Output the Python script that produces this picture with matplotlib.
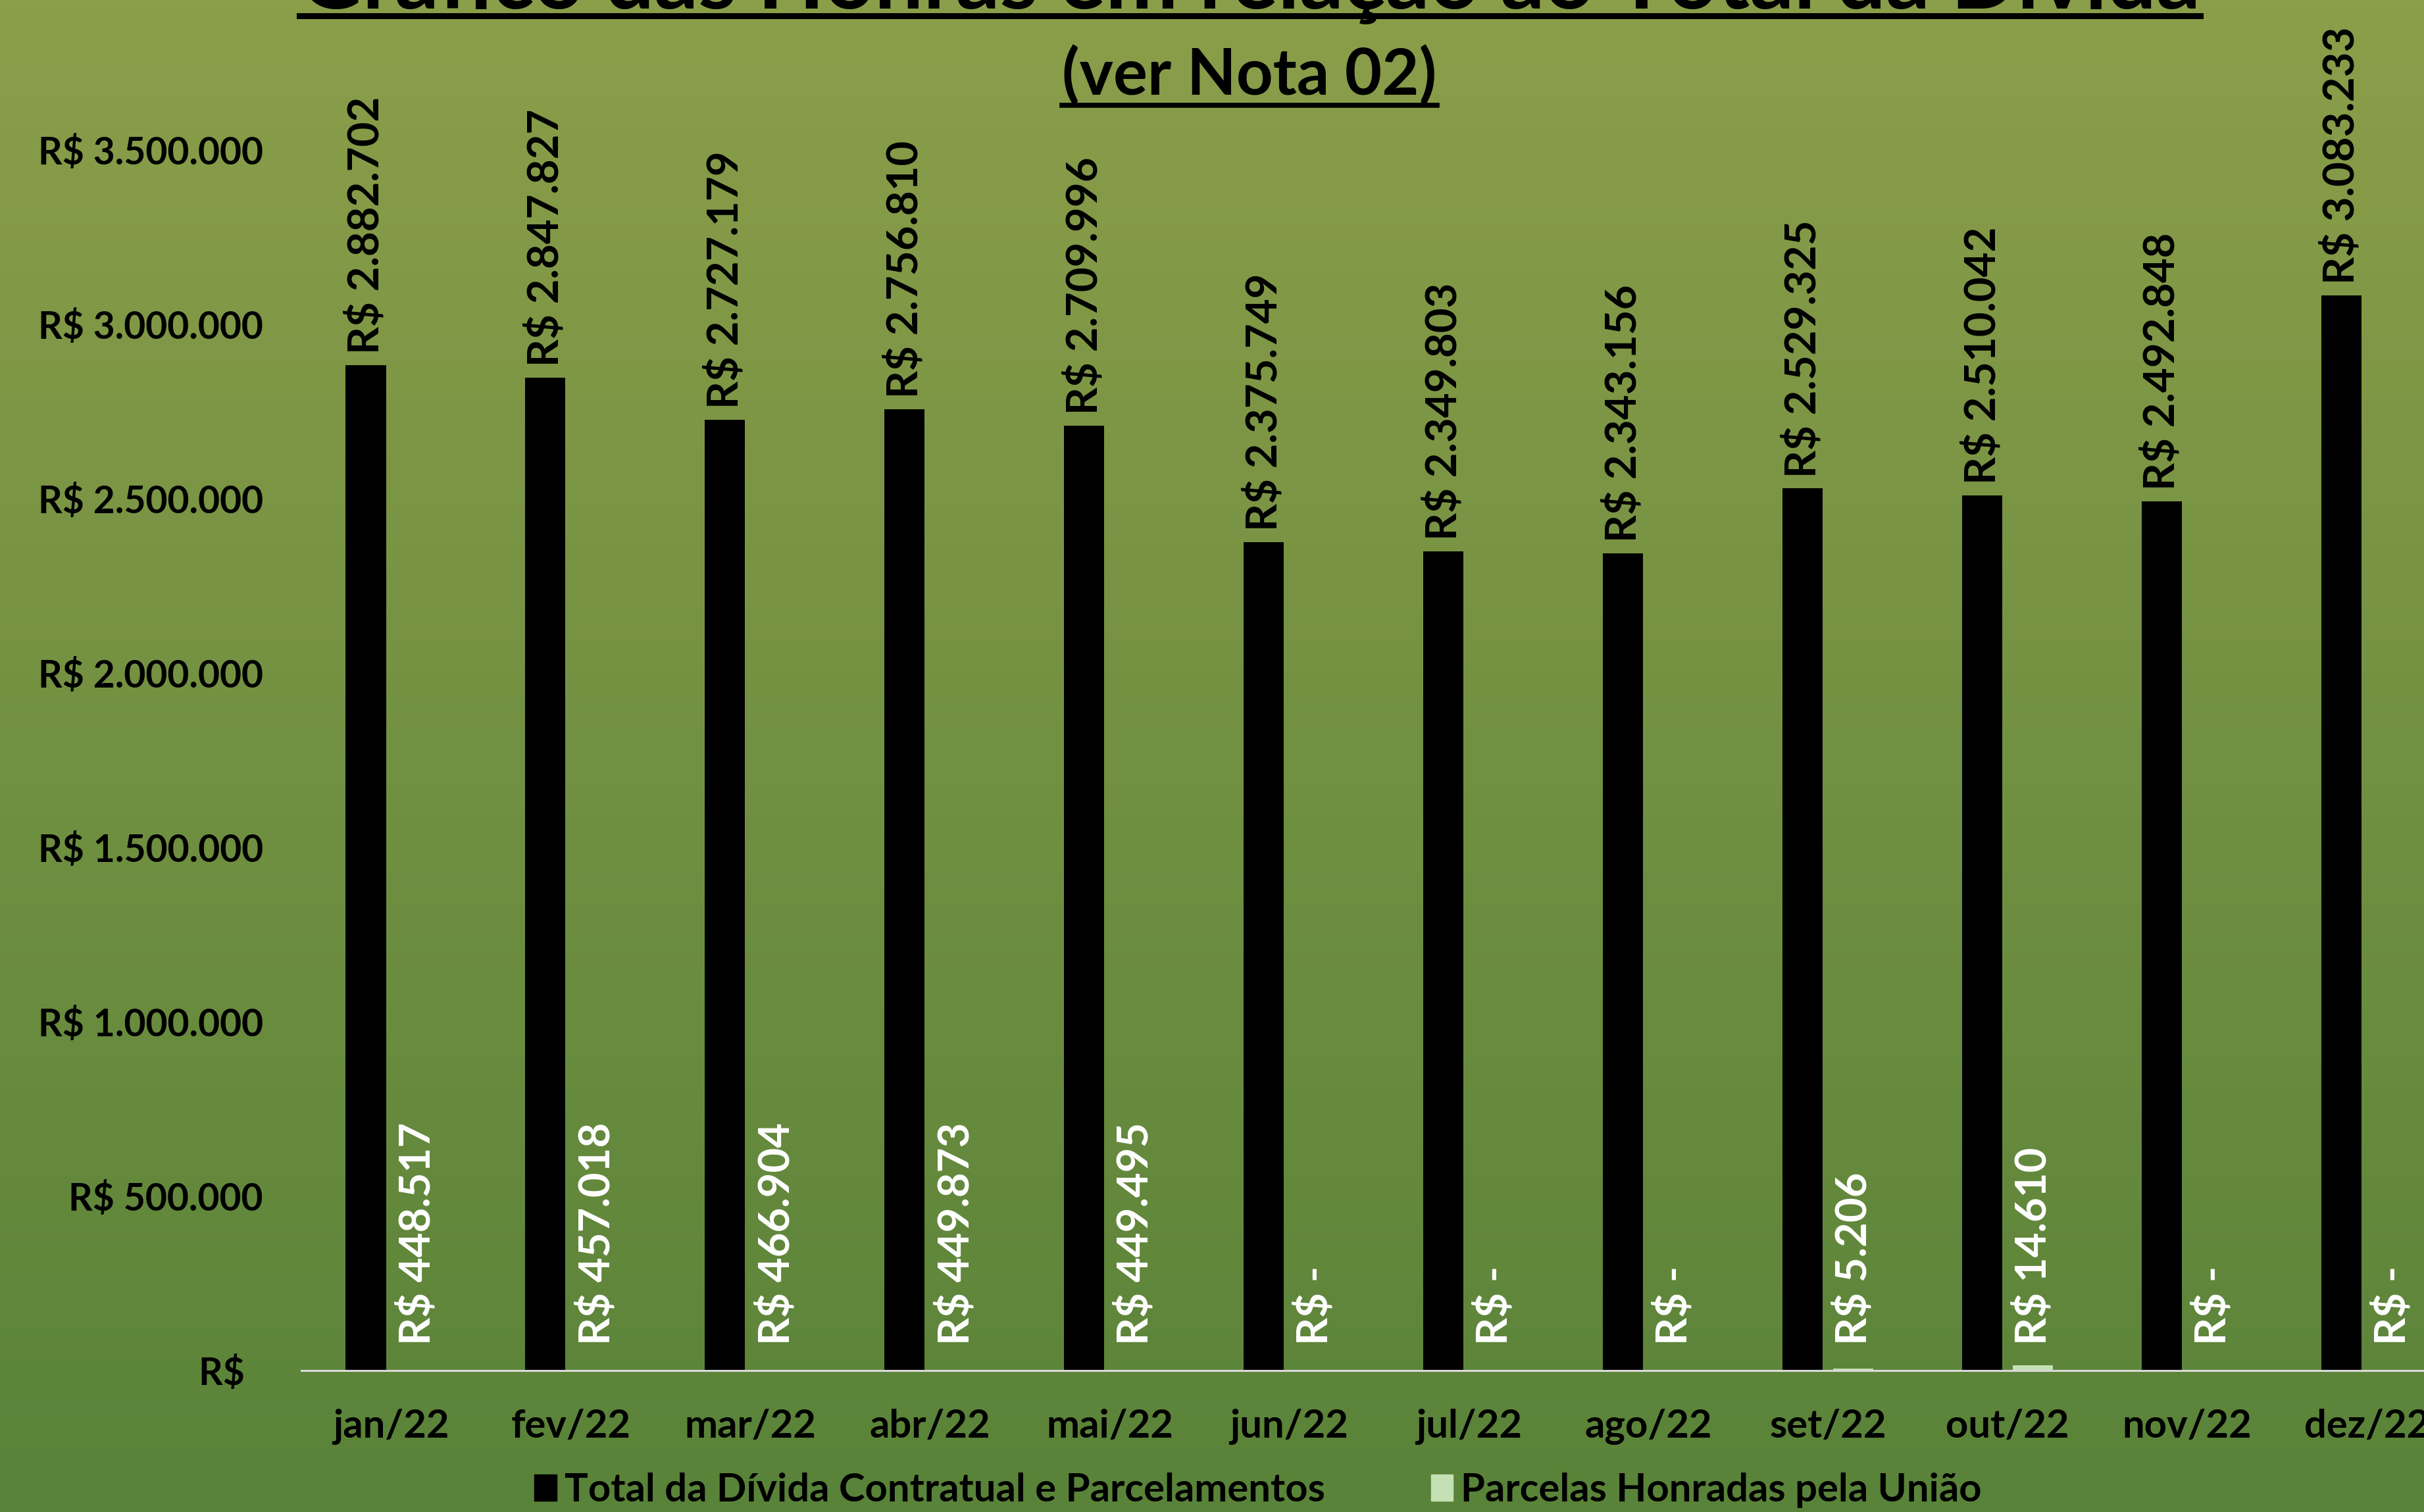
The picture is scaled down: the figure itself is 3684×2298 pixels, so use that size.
import numpy as np
import matplotlib
matplotlib.use("Agg")
import matplotlib.pyplot as plt
from matplotlib.patches import Patch
from matplotlib.lines import Line2D
from matplotlib.ticker import FuncFormatter

plt.rcParams['font.family'] = ['Lato', 'DejaVu Sans']
plt.rcParams['font.weight'] = 'bold'

# dados
meses = ['jan/22', 'fev/22', 'mar/22', 'abr/22', 'mai/22', 'jun/22',
         'jul/22', 'ago/22', 'set/22', 'out/22', 'nov/22', 'dez/22']
total_divida = [2882702, 2847827, 2727179, 2756810, 2709996, 2375749,
                2349803, 2343156, 2529325, 2510042, 2492848, 3083233]
parcelas_honradas = [448517, 457018, 466904, 449873, 449495, 0,
                     0, 0, 5206, 14610, 0, 0]
y_ticks = [0, 500000, 1000000, 1500000, 2000000, 2500000, 3000000, 3500000]

# no original as barras de jan a mai nao tem preenchimento
honras_preenchida = [False, False, False, False, False, True,
                     True, True, True, True, True, True]


def brl(v):
    if v == 0:
        return 'R$ -'
    return 'R$ ' + f'{v:,.0f}'.replace(',', '.')


fig = plt.figure(figsize=(36.84, 22.98), dpi=100)

# fundo em degradê
bg = fig.add_axes([0, 0, 1, 1], zorder=-10)
top = np.array([139, 158, 74]) / 255
bot = np.array([89, 131, 57]) / 255
t = np.linspace(0, 1, 256)[:, None]
grad = top[None, :] * (1 - t) + bot[None, :] * t
bg.imshow(grad[:, None, :], aspect='auto', extent=[0, 1, 0, 1])
bg.axis('off')

ax = fig.add_axes([0.1244, 0.0936, 1.0134 - 0.1244, 0.9008 - 0.0936])
ax.patch.set_alpha(0)

x = np.arange(len(meses))
w = 0.224
off = 0.142
ax.bar(x - off, total_divida, w, color='black', zorder=3)
cores = ['#C5E0B4' if f else 'none' for f in honras_preenchida]
ax.bar(x + off, parcelas_honradas, w, color=cores, zorder=3)

for i, v in enumerate(total_divida):
    ax.annotate(brl(v), (x[i] - off, v), xytext=(0, 12), textcoords='offset points',
                rotation=90, ha='center', va='bottom', fontsize=47,
                color='black', annotation_clip=False)
for i, v in enumerate(parcelas_honradas):
    ax.annotate(brl(v), (x[i] + off, 0), xytext=(0, 28), textcoords='offset points',
                rotation=90, ha='center', va='bottom', fontsize=47,
                color='white', annotation_clip=False)

ax.set_xlim(-0.5, 11.5)
ax.set_ylim(0, 3500000)
ax.set_yticks(y_ticks)
ax.yaxis.set_major_formatter(FuncFormatter(lambda v, p: 'R$  ' if v == 0 else brl(v)))
ax.set_xticks(x)
ax.set_xticklabels(meses)
ax.tick_params(axis='y', length=0, pad=42, labelsize=41)
ax.tick_params(axis='x', length=0, pad=42, labelsize=43)
for s in ['top', 'right', 'left']:
    ax.spines[s].set_visible(False)
ax.spines['bottom'].set_color('#D9D9D9')
ax.spines['bottom'].set_linewidth(2.2)
ax.spines['bottom'].set_zorder(4)

handles = [Patch(color='black', label='Total da Dívida Contratual e Parcelamentos'),
           Patch(color='#C5E0B4', label='Parcelas Honradas pela União')]
fig.legend(handles=handles, loc='center', bbox_to_anchor=(0.519, 0.0144), ncol=2,
           frameon=False, prop={'weight': 'bold', 'size': 43}, handlelength=0.56,
           handleheight=0.65, handletextpad=0.2, columnspacing=2.7)

t1 = fig.text(0.5155, 0.9945, 'Gráfico das Honras em relação ao Total da Dívida',
              ha='center', va='baseline', fontsize=95)
t2 = fig.text(0.5155, 0.9369, '(ver Nota 02)', ha='center', va='baseline', fontsize=70)

fig.canvas.draw()
r = fig.canvas.get_renderer()
for txt, yl, lw in [(t1, 1 - 24 / 2298, 6.5), (t2, 1 - 160 / 2298, 5.5)]:
    bb = txt.get_window_extent(r).transformed(fig.transFigure.inverted())
    fig.add_artist(Line2D([bb.x0, bb.x1], [yl, yl], transform=fig.transFigure,
                          color='black', lw=lw))

fig.savefig('out.png', dpi=100)
